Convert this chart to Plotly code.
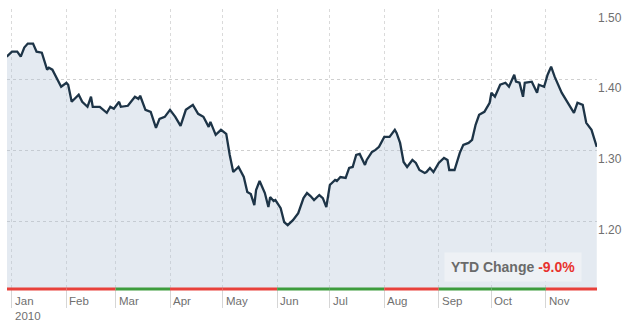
import plotly.graph_objects as go

dates = [
    "2009-12-29", "2010-01-01", "2010-01-04", "2010-01-06", "2010-01-08", "2010-01-10",
    "2010-01-13", "2010-01-15", "2010-01-18", "2010-01-21", "2010-01-22", "2010-01-24",
    "2010-01-29", "2010-02-01", "2010-02-02", "2010-02-04", "2010-02-08", "2010-02-10",
    "2010-02-13", "2010-02-15", "2010-02-16", "2010-02-20", "2010-02-24", "2010-02-26",
    "2010-02-28", "2010-03-03", "2010-03-04", "2010-03-08", "2010-03-12", "2010-03-14",
    "2010-03-15", "2010-03-18", "2010-03-21", "2010-03-24", "2010-03-26", "2010-03-29",
    "2010-04-01", "2010-04-04", "2010-04-07", "2010-04-10", "2010-04-14", "2010-04-17",
    "2010-04-20", "2010-04-23", "2010-04-24", "2010-04-27", "2010-04-30", "2010-05-03",
    "2010-05-05", "2010-05-07", "2010-05-10", "2010-05-13", "2010-05-15", "2010-05-17",
    "2010-05-19", "2010-05-20", "2010-05-22", "2010-05-25", "2010-05-27", "2010-05-28",
    "2010-05-30", "2010-05-31", "2010-06-03", "2010-06-05", "2010-06-07", "2010-06-10",
    "2010-06-13", "2010-06-16", "2010-06-18", "2010-06-20", "2010-06-22", "2010-06-25",
    "2010-06-27", "2010-06-29", "2010-07-01", "2010-07-04", "2010-07-05", "2010-07-07",
    "2010-07-10", "2010-07-12", "2010-07-14", "2010-07-16", "2010-07-18", "2010-07-21",
    "2010-07-22", "2010-07-25", "2010-07-27", "2010-07-29", "2010-08-01", "2010-08-04",
    "2010-08-07", "2010-08-08", "2010-08-10", "2010-08-12", "2010-08-14", "2010-08-17",
    "2010-08-19", "2010-08-21", "2010-08-24", "2010-08-25", "2010-08-27", "2010-08-29",
    "2010-09-01", "2010-09-04", "2010-09-06", "2010-09-07", "2010-09-10", "2010-09-13",
    "2010-09-15", "2010-09-18", "2010-09-20", "2010-09-22", "2010-09-24", "2010-09-27",
    "2010-09-30", "2010-10-01", "2010-10-03", "2010-10-06", "2010-10-09", "2010-10-11",
    "2010-10-14", "2010-10-15", "2010-10-17", "2010-10-19", "2010-10-20", "2010-10-24",
    "2010-10-27", "2010-10-28", "2010-10-31", "2010-11-02", "2010-11-04", "2010-11-06",
    "2010-11-10", "2010-11-13", "2010-11-17", "2010-11-19", "2010-11-22", "2010-11-24",
    "2010-11-27", "2010-11-30",
]

rates = [
    1.4326, 1.4397, 1.4397, 1.4326, 1.4454, 1.4511,
    1.4511, 1.4397, 1.4383, 1.4142, 1.4170, 1.4142,
    1.3901, 1.3957, 1.3929, 1.3688, 1.3787, 1.3688,
    1.3617, 1.3759, 1.3617, 1.3617, 1.3532, 1.3617,
    1.3589, 1.3688, 1.3617, 1.3631, 1.3759, 1.3730,
    1.3773, 1.3574, 1.3546, 1.3319, 1.3447, 1.3475,
    1.3574, 1.3475, 1.3348, 1.3574, 1.3645, 1.3518,
    1.3475, 1.3333, 1.3404, 1.3220, 1.3291, 1.3234,
    1.2936, 1.2695, 1.2766, 1.2624, 1.2411, 1.2383,
    1.2227, 1.2440, 1.2567, 1.2397, 1.2199, 1.2340,
    1.2284, 1.2298, 1.2184, 1.1986, 1.1943, 1.2014,
    1.2113, 1.2326, 1.2397, 1.2355, 1.2298, 1.2369,
    1.2326, 1.2199, 1.2511, 1.2582, 1.2567, 1.2624,
    1.2610, 1.2752, 1.2766, 1.2936, 1.2950, 1.2794,
    1.2865, 1.2979, 1.3007, 1.3050, 1.3191, 1.3191,
    1.3291, 1.3248, 1.3106, 1.2837, 1.2766, 1.2865,
    1.2823, 1.2723, 1.2681, 1.2695, 1.2752, 1.2695,
    1.2823, 1.2894, 1.2865, 1.2723, 1.2723, 1.2965,
    1.3078, 1.3106, 1.3149, 1.3362, 1.3504, 1.3546,
    1.3674, 1.3816, 1.3759, 1.3929, 1.3957, 1.3901,
    1.4071, 1.3972, 1.3957, 1.3759, 1.3957, 1.3972,
    1.3816, 1.3929, 1.3901, 1.4071, 1.4184, 1.4043,
    1.3816, 1.3688, 1.3532, 1.3674, 1.3645, 1.3390,
    1.3291, 1.3050,
]

month_starts = ["2010-01-01", "2010-02-01", "2010-03-01", "2010-04-01", "2010-05-01",
                "2010-06-01", "2010-07-01", "2010-08-01", "2010-09-01", "2010-10-01",
                "2010-11-01"]
month_labels = ["Jan", "Feb", "Mar", "Apr", "May", "Jun", "Jul", "Aug", "Sep", "Oct", "Nov"]
month_trend = ["down", "down", "up", "down", "down", "up", "up", "down", "up", "up", "down"]
year_label = "2010"

y_ticks = [1.20, 1.30, 1.40, 1.50]
y_tick_labels = ["1.20", "1.30", "1.40", "1.50"]

ytd_label = "YTD Change"
ytd_value = "-9.0%"

X_START = "2009-12-29 04:00"
X_END = "2010-11-30 03:00"
FONT = "Arial, Liberation Sans, sans-serif"
GRAY = "#6f6f6f"

fig = go.Figure()
fig.add_trace(go.Scatter(
    x=dates, y=rates, mode="lines",
    line=dict(color="#1d3447", width=2.3),
    fill="tozeroy", fillcolor="rgba(180,198,216,0.36)",
    hoverinfo="skip", showlegend=False,
))

shapes = []
bounds = [X_START] + month_starts[1:] + [X_END]
for i, trend in enumerate(month_trend):
    shapes.append(dict(
        type="line", xref="x", yref="paper",
        x0=bounds[i], x1=bounds[i + 1], y0=0, y1=0,
        line=dict(color="#e8413b" if trend == "down" else "#3d9c3d", width=3),
        layer="above",
    ))

annotations = []
for i, (d, lab) in enumerate(zip(month_starts, month_labels)):
    text = f"{lab}<br>{year_label}" if i == 0 else lab
    annotations.append(dict(
        x=d, y=0, xref="x", yref="paper", text=text, showarrow=False,
        xanchor="left", yanchor="top", align="left", xshift=2, yshift=-5,
        borderpad=0,
        font=dict(family=FONT, size=11.5, color=GRAY),
    ))
annotations.append(dict(
    x=0.975, y=0.025, xref="paper", yref="paper",
    text=f"<b>{ytd_label}</b> <b><span style='color:#e8322d'>{ytd_value}</span></b>",
    showarrow=False, xanchor="right", yanchor="bottom",
    bgcolor="#eef1f5", borderpad=6,
    font=dict(family=FONT, size=14, color="#6a6a6a"),
))

fig.update_layout(
    width=629, height=324,
    margin=dict(l=7, r=29, t=9, b=35),
    paper_bgcolor="white", plot_bgcolor="white",
    shapes=shapes, annotations=annotations,
    xaxis=dict(
        range=[X_START, X_END], type="date",
        tickvals=month_starts, ticktext=[""] * len(month_starts),
        ticks="outside", ticklen=18, tickcolor="#d6d6d6", tickwidth=1,
        showgrid=True, gridcolor="#dadada", griddash="dot", gridwidth=1,
        showline=False, zeroline=False, fixedrange=True,
    ),
    yaxis=dict(
        range=[1.104, 1.50], side="right",
        tickvals=y_ticks, ticktext=y_tick_labels,
        ticklabelposition="outside bottom",
        tickfont=dict(family=FONT, size=12, color=GRAY),
        showgrid=True, gridcolor="#cfcfcf", griddash="dot", gridwidth=1,
        showline=False, zeroline=False, ticks="",
    ),
)

fig.write_html("out.html")
